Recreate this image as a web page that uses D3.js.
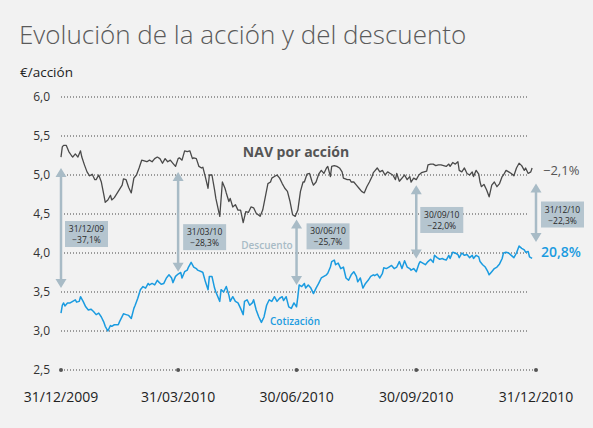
<!DOCTYPE html>
<html>
<head>
<meta charset="utf-8">
<script src="https://cdn.jsdelivr.net/npm/d3@7"></script>
<style>
  body { margin: 0; background: #f2f2f2; }
  svg { display: block; font-family: "Open Sans", "Noto Sans", sans-serif; }
</style>
</head>
<body>
<svg id="chart" width="593" height="428"></svg>
<script>
// days after 31/12/2009 and values (€/acción)
const navDays = [0,1,2,4,6,8,9,11,13,15,16,18,20,22,24,26,27,29,31,33,34,36,38,39,41,44,47,48,50,52,54,56,58,60,62,64,66,68,70,72,74,76,78,80,82,84,86,88,90,91,93,95,97,99,101,102,104,106,108,109,111,113,114,116,118,119,122,124,126,127,129,130,132,134,136,138,140,142,144,146,148,150,153,155,157,159,161,162,164,166,168,170,172,174,176,178,180,182,184,186,187,189,191,193,194,196,198,200,202,204,205,207,208,210,212,214,216,217,220,222,223,225,227,229,231,233,235,237,239,240,241,243,245,247,249,251,253,255,257,258,260,263,264,266,268,269,271,273,275,277,279,281,282,284,286,288,290,292,294,296,298,299,301,303,305,306,308,310,312,314,316,317,319,321,322,323,325,327,329,331,333,335,337,339,340,342,344,346,348,350,352,354,356,357,359,361,362];
const navValues = [5.23,5.36,5.38,5.38,5.30,5.25,5.23,5.27,5.23,5.31,5.23,5.13,5.04,4.99,5.01,4.94,4.94,5.00,4.91,4.74,4.65,4.68,4.74,4.68,4.71,4.79,4.87,4.95,4.94,4.84,4.77,4.96,5.00,5.09,5.19,5.18,5.17,5.19,5.17,5.21,5.23,5.21,5.15,5.21,5.17,5.19,5.15,5.11,5.21,5.22,5.19,5.31,5.30,5.31,5.21,5.22,5.21,5.11,5.09,5.10,4.97,4.83,5.00,5.00,4.81,4.70,4.47,4.91,4.83,4.77,4.66,4.70,4.59,4.62,4.55,4.55,4.39,4.53,4.52,4.59,4.58,4.51,4.47,4.55,4.72,4.89,4.91,4.96,4.98,5.00,4.96,4.89,4.83,4.79,4.66,4.49,4.47,4.55,4.79,4.91,4.91,5.01,5.02,4.91,4.87,4.91,5.01,5.06,5.02,5.09,5.11,4.98,5.11,5.12,5.11,5.09,5.04,4.96,4.94,4.94,4.91,4.91,4.87,4.83,4.79,4.77,4.85,4.91,4.98,5.03,5.05,5.09,5.04,5.06,5.00,5.04,5.02,5.00,4.94,5.02,4.92,4.98,5.00,4.94,4.98,4.91,4.96,4.94,5.00,5.03,5.04,5.05,5.13,5.14,5.14,5.12,5.13,5.13,5.12,5.11,5.14,5.11,5.16,5.14,5.17,5.06,5.04,5.09,5.02,5.00,5.04,4.98,5.06,5.01,4.91,4.85,4.88,4.81,4.72,4.87,4.91,4.85,4.89,4.98,5.00,5.06,5.04,5.02,4.99,5.09,5.15,5.12,5.06,5.09,5.02,5.04,5.09];

const priceDays = [0,1,2,3,5,7,9,11,12,14,15,17,19,21,23,25,27,29,31,33,34,36,38,39,41,44,45,48,50,52,54,56,57,59,61,63,65,67,68,70,72,74,75,77,79,81,83,85,86,88,90,92,93,95,97,98,100,102,104,105,108,109,111,113,114,116,118,119,122,123,125,127,129,130,132,134,136,138,140,141,143,145,147,148,150,152,154,156,158,160,162,164,166,168,170,171,173,175,177,179,181,182,183,185,187,188,190,192,194,196,198,200,202,204,205,207,208,210,211,213,215,217,219,221,223,225,227,228,230,232,234,236,238,240,241,243,245,247,248,250,252,254,256,258,260,262,264,266,268,269,271,273,275,276,278,280,282,284,286,287,289,291,293,294,296,298,299,301,303,305,306,308,310,312,314,316,317,319,321,322,324,326,328,329,331,333,335,337,339,340,342,344,346,348,350,352,354,356,357,359,360,362];
const priceValues = [3.23,3.33,3.36,3.32,3.36,3.36,3.38,3.40,3.37,3.38,3.44,3.38,3.31,3.27,3.28,3.25,3.21,3.23,3.18,3.11,3.06,3.00,3.07,3.06,3.08,3.08,3.12,3.22,3.21,3.20,3.16,3.29,3.33,3.42,3.53,3.57,3.55,3.61,3.59,3.61,3.59,3.65,3.63,3.60,3.61,3.68,3.72,3.68,3.62,3.70,3.73,3.75,3.68,3.76,3.78,3.82,3.88,3.82,3.80,3.78,3.76,3.75,3.63,3.53,3.70,3.70,3.55,3.50,3.38,3.53,3.50,3.57,3.46,3.38,3.44,3.38,3.36,3.29,3.21,3.38,3.40,3.33,3.36,3.40,3.27,3.18,3.11,3.18,3.33,3.40,3.38,3.44,3.38,3.42,3.44,3.39,3.44,3.31,3.29,3.36,3.31,3.44,3.59,3.57,3.61,3.55,3.59,3.55,3.48,3.55,3.61,3.68,3.70,3.72,3.74,3.82,3.89,3.91,3.85,3.87,3.80,3.82,3.68,3.65,3.72,3.76,3.70,3.63,3.68,3.55,3.61,3.65,3.70,3.72,3.71,3.73,3.68,3.74,3.81,3.80,3.82,3.84,3.80,3.82,3.89,3.80,3.90,3.82,3.80,3.78,3.80,3.76,3.86,3.89,3.87,3.85,3.89,3.92,3.88,3.97,3.94,3.92,3.93,3.92,3.91,3.97,3.93,4.01,4.00,3.98,3.94,4.00,3.97,3.98,3.94,3.97,3.93,3.97,3.95,3.89,3.85,3.82,3.76,3.72,3.76,3.80,3.82,3.86,3.93,4.00,4.01,4.00,3.97,3.94,4.00,4.09,4.06,4.04,4.01,4.02,3.95,3.93];

const yTicks = [2.5, 3.0, 3.5, 4.0, 4.5, 5.0, 5.5, 6.0];
const xTickDates = ["2009-12-31", "2010-03-31", "2010-06-30", "2010-09-30", "2010-12-31"];

// discount annotations
const annoDates = ["2009-12-31", "2010-03-31", "2010-06-30", "2010-09-30", "2010-12-31"];
const annoLabels = ["31/12/09", "31/03/10", "30/06/10", "30/09/10", "31/12/10"];
const annoPcts = ["\u221237,1%", "\u221228,3%", "\u221225,7%", "\u221222,0%", "\u221222,3%"];
const arrowTop = [5.09, 5.04, 4.43, 4.87, 4.89];
const arrowBottom = [3.55, 3.76, 3.59, 3.93, 4.14];
const boxTop = [4.41, 4.37, 4.38, 4.59, 4.66];
const boxShift = [4, 5, 10, 4, 5];

const navEnd = "\u22122,1%";
const priceEnd = "20,8%";

const width = 593, height = 428;
const margin = { top: 97, right: 57, bottom: 58, left: 61 };
const parse = d3.timeParse("%Y-%m-%d");
const start = parse("2009-12-31");

const x = d3.scaleTime()
  .domain([start, parse("2010-12-31")])
  .range([margin.left, width - margin.right]);
const y = d3.scaleLinear()
  .domain([2.5, 6.0])
  .range([height - margin.bottom, margin.top]);

const svg = d3.select("#chart");
const fmt = d3.format(".1f");

svg.append("rect").attr("width", width).attr("height", height).attr("fill", "#f2f2f2");

// title
svg.append("text")
  .attr("x", 19).attr("y", 44)
  .attr("font-size", 26).attr("fill", "#5a5a5a").attr("font-weight", 300)
  .text("Evolución de la acción y del descuento");

svg.append("text")
  .attr("x", 20).attr("y", 77)
  .attr("font-size", 13.5).attr("fill", "#222")
  .text("€/acción");

// gridlines
const grid = svg.append("g");
grid.selectAll("line")
  .data(yTicks)
  .join("line")
    .attr("x1", margin.left)
    .attr("x2", d => d === 2.5 ? x(parse("2010-12-31")) : 528)
    .attr("y1", d => y(d)).attr("y2", d => y(d))
    .attr("stroke", "#444")
    .attr("stroke-width", 1.1)
    .attr("stroke-dasharray", "1,2");

grid.selectAll("text")
  .data(yTicks)
  .join("text")
    .attr("x", 50).attr("y", d => y(d) + 4)
    .attr("text-anchor", "end")
    .attr("font-size", 12).attr("fill", "#333")
    .text(d => fmt(d).replace(".", ","));

// x axis dots and labels
const xa = svg.append("g");
xa.selectAll("circle")
  .data(xTickDates)
  .join("circle")
    .attr("cx", d => x(parse(d)))
    .attr("cy", y(2.5))
    .attr("r", 2)
    .attr("fill", "#555");
xa.selectAll("text")
  .data(xTickDates)
  .join("text")
    .attr("x", d => x(parse(d)))
    .attr("y", 402)
    .attr("text-anchor", "middle")
    .attr("font-size", 14).attr("fill", "#222")
    .text(d => d3.timeFormat("%d/%m/%Y")(parse(d)));

// lines
const toPoints = (days, values) => days.map((d, i) => ({ date: d3.timeDay.offset(start, d), value: values[i] }));
const line = d3.line()
  .x(d => x(d.date))
  .y(d => y(d.value));

svg.append("path")
  .datum(toPoints(navDays, navValues))
  .attr("fill", "none")
  .attr("stroke", "#4a4a4a")
  .attr("stroke-width", 1.3)
  .attr("stroke-linejoin", "round")
  .attr("d", line);

svg.append("path")
  .datum(toPoints(priceDays, priceValues))
  .attr("fill", "none")
  .attr("stroke", "#1a9be0")
  .attr("stroke-width", 1.5)
  .attr("stroke-linejoin", "round")
  .attr("d", line);

// arrows
const arrowColor = "#a8bbc6";
const anno = svg.append("g")
  .selectAll("g")
  .data(annoDates)
  .join("g");

anno.append("line")
  .attr("x1", d => x(parse(d))).attr("x2", d => x(parse(d)))
  .attr("y1", (d, i) => y(arrowTop[i]) + 6)
  .attr("y2", (d, i) => y(arrowBottom[i]) - 6)
  .attr("stroke", arrowColor)
  .attr("stroke-width", 2.5);

anno.append("path")
  .attr("fill", arrowColor)
  .attr("d", (d, i) => {
    const cx = x(parse(d)), t = y(arrowTop[i]), b = y(arrowBottom[i]);
    return `M${cx},${t}L${cx - 5.5},${t + 9}L${cx + 5.5},${t + 9}Z` +
           `M${cx},${b}L${cx - 5.5},${b - 9}L${cx + 5.5},${b - 9}Z`;
  });

anno.append("rect")
  .attr("x", (d, i) => x(parse(d)) + boxShift[i])
  .attr("y", (d, i) => y(boxTop[i]))
  .attr("width", 43).attr("height", 26)
  .attr("fill", "#b5c5cf");

anno.append("text")
  .attr("x", (d, i) => x(parse(d)) + boxShift[i] + 21.5)
  .attr("y", (d, i) => y(boxTop[i]) + 11)
  .attr("text-anchor", "middle")
  .attr("font-size", 8.5).attr("fill", "#2a2a2a")
  .text((d, i) => annoLabels[i]);

anno.append("text")
  .attr("x", (d, i) => x(parse(d)) + boxShift[i] + 21.5)
  .attr("y", (d, i) => y(boxTop[i]) + 22)
  .attr("text-anchor", "middle")
  .attr("font-size", 8.5).attr("fill", "#2a2a2a")
  .text((d, i) => annoPcts[i]);

// series labels
svg.append("text")
  .attr("x", 296).attr("y", 157)
  .attr("text-anchor", "middle")
  .attr("font-size", 14).attr("font-weight", "bold").attr("fill", "#555")
  .text("NAV por acción");

svg.append("text")
  .attr("x", 267).attr("y", 249)
  .attr("text-anchor", "middle")
  .attr("font-size", 10).attr("font-weight", 600).attr("fill", "#a8bbc6")
  .text("Descuento");

svg.append("text")
  .attr("x", 295).attr("y", 325)
  .attr("text-anchor", "middle")
  .attr("font-size", 10).attr("font-weight", 600).attr("fill", "#1a9be0")
  .text("Cotización");

svg.append("text")
  .attr("x", 543).attr("y", 175)
  .attr("font-size", 13).attr("fill", "#555")
  .text(navEnd);

svg.append("text")
  .attr("x", 541).attr("y", 257)
  .attr("font-size", 14).attr("font-weight", 600).attr("fill", "#1a9be0")
  .text(priceEnd);
</script>
</body>
</html>
